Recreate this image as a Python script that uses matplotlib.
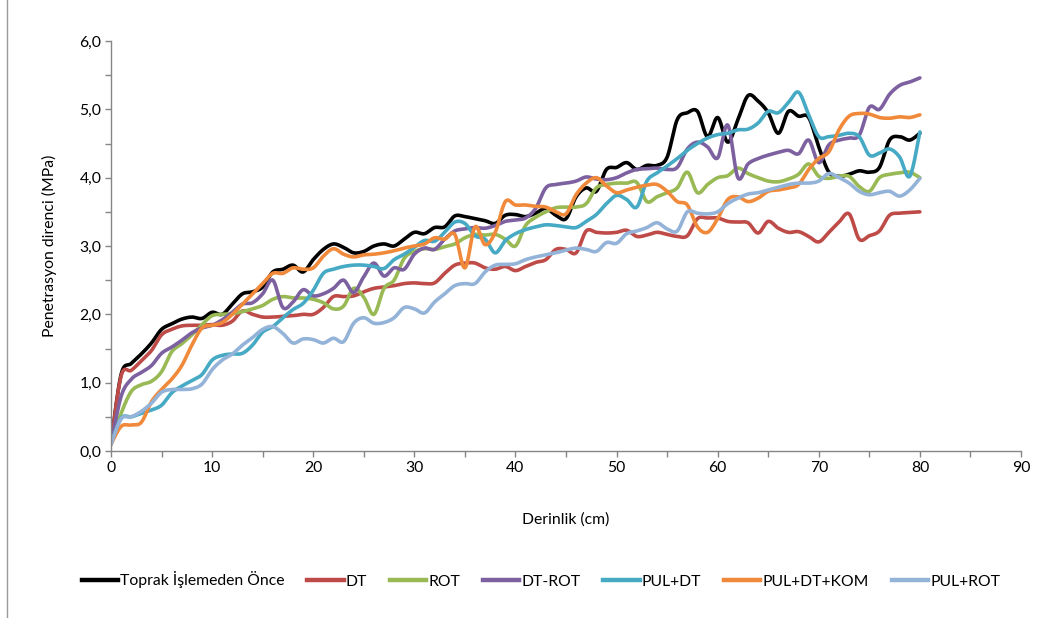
import numpy as np
import matplotlib
matplotlib.use("Agg")
import matplotlib.pyplot as plt
from matplotlib.ticker import MultipleLocator, FuncFormatter
from matplotlib.lines import Line2D

depth = list(range(0, 81))

toprak = [0.10, 1.12, 1.28, 1.42, 1.58, 1.78, 1.86, 1.93, 1.96, 1.94,
          2.03, 2.00, 2.15, 2.30, 2.33, 2.40, 2.62, 2.66, 2.72, 2.62,
          2.80, 2.95, 3.03, 2.98, 2.90, 2.92, 3.00, 3.03, 3.00, 3.10,
          3.20, 3.18, 3.27, 3.28, 3.44, 3.43, 3.40, 3.37, 3.33, 3.45,
          3.46, 3.43, 3.48, 3.55, 3.45, 3.40, 3.72, 3.85, 3.80, 4.12,
          4.15, 4.22, 4.12, 4.18, 4.18, 4.30, 4.85, 4.95, 4.97, 4.60,
          4.88, 4.52, 4.85, 5.20, 5.12, 4.95, 4.65, 4.97, 4.90, 4.88,
          4.45, 4.08, 4.02, 4.05, 4.10, 4.08, 4.15, 4.55, 4.60, 4.55,
          4.65]

dt = [0.10, 1.10, 1.18, 1.32, 1.47, 1.70, 1.78, 1.83, 1.84, 1.84,
      1.85, 1.84, 1.90, 2.05, 2.00, 1.96, 1.96, 1.97, 1.98, 2.00,
      2.00, 2.10, 2.26, 2.26, 2.27, 2.33, 2.38, 2.40, 2.42, 2.45,
      2.46, 2.45, 2.46, 2.60, 2.72, 2.75, 2.75, 2.68, 2.66, 2.70,
      2.64, 2.70, 2.76, 2.80, 2.95, 2.95, 2.90, 3.22, 3.20, 3.19,
      3.20, 3.23, 3.14, 3.16, 3.20, 3.17, 3.14, 3.15, 3.40, 3.41,
      3.41, 3.36, 3.35, 3.34, 3.19, 3.36, 3.26, 3.20, 3.21, 3.14,
      3.06, 3.20, 3.35, 3.47, 3.10, 3.15, 3.22, 3.45, 3.48, 3.49,
      3.50]

rot = [0.10, 0.55, 0.87, 0.97, 1.02, 1.16, 1.45, 1.57, 1.70, 1.85,
       1.98, 2.00, 2.01, 2.04, 2.08, 2.13, 2.22, 2.26, 2.24, 2.24,
       2.22, 2.17, 2.08, 2.12, 2.38, 2.25, 2.00, 2.38, 2.50, 2.82,
       2.92, 2.96, 2.95, 2.99, 3.03, 3.12, 3.17, 3.16, 3.17, 3.10,
       3.00, 3.30, 3.42, 3.50, 3.56, 3.57, 3.57, 3.62, 3.85, 3.90,
       3.92, 3.92, 3.93, 3.65, 3.72, 3.78, 3.85, 4.08, 3.78, 3.90,
       4.00, 4.03, 4.14, 4.06, 4.00, 3.95, 3.94, 3.98, 4.05, 4.20,
       4.02, 3.99, 4.02, 4.02, 3.87, 3.80, 4.00, 4.05, 4.07, 4.08,
       4.00]

dt_rot = [0.10, 0.80, 1.05, 1.15, 1.25, 1.43, 1.52, 1.62, 1.73, 1.80,
          1.84, 1.92, 2.03, 2.15, 2.17, 2.30, 2.50, 2.10, 2.18, 2.36,
          2.27, 2.30, 2.38, 2.50, 2.32, 2.55, 2.75, 2.56, 2.68, 2.66,
          2.88, 2.97, 2.95, 3.10, 3.22, 3.25, 3.27, 3.26, 3.30, 3.36,
          3.38, 3.41, 3.55, 3.85, 3.90, 3.92, 3.95, 4.01, 3.98, 3.97,
          4.00, 4.07, 4.12, 4.13, 4.14, 4.12, 4.15, 4.42, 4.52, 4.45,
          4.29, 4.77, 4.00, 4.20, 4.28, 4.33, 4.37, 4.40, 4.35, 4.55,
          4.22, 4.48, 4.55, 4.58, 4.62, 5.03, 5.00, 5.22, 5.35, 5.40,
          5.46]

pul_dt = [0.10, 0.48, 0.50, 0.55, 0.60, 0.67, 0.85, 0.95, 1.03, 1.12,
          1.33, 1.40, 1.42, 1.43, 1.55, 1.74, 1.82, 1.95, 2.07, 2.16,
          2.35, 2.60, 2.66, 2.70, 2.72, 2.72, 2.70, 2.67, 2.80, 2.88,
          2.98, 3.08, 3.07, 3.20, 3.35, 3.33, 3.15, 3.10, 2.90, 3.08,
          3.18, 3.24, 3.28, 3.31, 3.30, 3.28, 3.27, 3.36, 3.46, 3.62,
          3.74, 3.68, 3.57, 3.95, 4.07, 4.17, 4.28, 4.40, 4.50, 4.58,
          4.63, 4.65, 4.70, 4.71, 4.80, 4.97, 4.95, 5.10, 5.25, 4.92,
          4.60, 4.60, 4.62, 4.65, 4.60, 4.33, 4.36, 4.42, 4.30, 4.02,
          4.67]

pul_dt_kom = [0.10, 0.36, 0.38, 0.42, 0.72, 0.90, 1.05, 1.25, 1.55, 1.80,
              1.84, 1.88, 2.00, 2.15, 2.30, 2.45, 2.60, 2.60, 2.68, 2.66,
              2.68, 2.85, 2.96, 2.88, 2.84, 2.87, 2.88, 2.90, 2.93, 2.97,
              3.00, 3.03, 3.12, 3.10, 3.17, 2.68, 3.28, 3.02, 3.20, 3.65,
              3.60, 3.60, 3.58, 3.57, 3.50, 3.47, 3.75, 3.92, 4.00, 3.88,
              3.78, 3.82, 3.86, 3.89, 3.90, 3.80, 3.65, 3.60, 3.28, 3.20,
              3.40, 3.68, 3.72, 3.65, 3.70, 3.80, 3.82, 3.85, 3.90, 4.12,
              4.28, 4.38, 4.70, 4.90, 4.94, 4.93, 4.88, 4.87, 4.89, 4.88,
              4.92]

pul_rot = [0.10, 0.47, 0.50, 0.58, 0.70, 0.86, 0.90, 0.90, 0.91, 0.98,
           1.19, 1.33, 1.42, 1.55, 1.66, 1.78, 1.82, 1.72, 1.58, 1.64,
           1.63, 1.58, 1.65, 1.60, 1.87, 1.95, 1.87, 1.88, 1.95, 2.10,
           2.08, 2.02, 2.18, 2.30, 2.42, 2.45, 2.45, 2.62, 2.72, 2.73,
           2.74, 2.80, 2.84, 2.87, 2.90, 2.94, 2.97, 2.95, 2.92, 3.05,
           3.04, 3.18, 3.22, 3.27, 3.34, 3.25, 3.22, 3.50, 3.48, 3.47,
           3.50, 3.62, 3.70, 3.76, 3.78, 3.82, 3.86, 3.90, 3.92, 3.92,
           3.95, 4.06, 4.00, 3.92, 3.80, 3.75, 3.78, 3.80, 3.73, 3.82,
           3.99]

series_names = ["Toprak İşlemeden Önce", "DT", "ROT", "DT-ROT",
                "PUL+DT", "PUL+DT+KOM", "PUL+ROT"]
series_values = [toprak, dt, rot, dt_rot, pul_dt, pul_dt_kom, pul_rot]
colors = ["#000000", "#BE4B48", "#98B954", "#7D60A0", "#46AAC5", "#F0893A", "#94B3D8"]

x_ticks = list(range(0, 91, 10))
y_ticks = [0, 1, 2, 3, 4, 5, 6]


def smooth(x, y, n=16):
    """Excel-like smoothed line (Catmull-Rom / Bezier with 1/6 tangents)."""
    x = np.asarray(x, float)
    y = np.asarray(y, float)
    px = np.concatenate([[x[0]], x, [x[-1]]])
    py = np.concatenate([[y[0]], y, [y[-1]]])
    tt = np.linspace(0, 1, n, endpoint=False)
    b0 = (1 - tt) ** 3
    b1 = 3 * (1 - tt) ** 2 * tt
    b2 = 3 * (1 - tt) * tt ** 2
    b3 = tt ** 3
    xs, ys = [], []
    for i in range(1, len(px) - 2):
        p0x, p1x = px[i], px[i + 1]
        p0y, p1y = py[i], py[i + 1]
        c1x = p0x + (px[i + 1] - px[i - 1]) / 6
        c1y = p0y + (py[i + 1] - py[i - 1]) / 6
        c2x = p1x - (px[i + 2] - px[i]) / 6
        c2y = p1y - (py[i + 2] - py[i]) / 6
        xs.append(b0 * p0x + b1 * c1x + b2 * c2x + b3 * p1x)
        ys.append(b0 * p0y + b1 * c1y + b2 * c2y + b3 * p1y)
    xs.append([x[-1]])
    ys.append([y[-1]])
    return np.concatenate(xs), np.concatenate(ys)


plt.rcParams['font.family'] = ['Lato', 'DejaVu Sans']
FS = 11.3

fig = plt.figure(figsize=(10.57, 6.18), dpi=100)
ax = fig.add_axes([111 / 1057, 1 - 451 / 618, (1021 - 111) / 1057, (451 - 41) / 618])

for name, vals, col in zip(series_names, series_values, colors):
    sx, sy = smooth(depth, vals)
    ax.plot(sx, sy, color=col, lw=2.6, label=name, solid_capstyle='round',
            solid_joinstyle='round')

ax.set_xlim(0, 90)
ax.set_ylim(0, 6)
ax.set_xticks(x_ticks)
ax.set_yticks(y_ticks)
ax.xaxis.set_minor_locator(MultipleLocator(5))
ax.yaxis.set_minor_locator(MultipleLocator(0.5))
ax.yaxis.set_major_formatter(FuncFormatter(lambda v, p: f"{v:.1f}".replace('.', ',')))

axis_col = "#868686"
for s in ["top", "right"]:
    ax.spines[s].set_visible(False)
for s in ["left", "bottom"]:
    ax.spines[s].set_color(axis_col)
    ax.spines[s].set_linewidth(1.0)

ax.tick_params(axis='both', which='major', direction='out', length=4, width=1,
               color=axis_col, labelsize=FS, labelcolor='black', pad=3)
ax.tick_params(axis='both', which='minor', direction='out', length=4, width=1,
               color=axis_col)

ax.set_xlabel("Derinlik (cm)", fontsize=FS, labelpad=27)
ax.set_ylabel("Penetrasyon direnci (MPa)", fontsize=FS, labelpad=16)

handles = [Line2D([0], [0], color=c, lw=3.2) for c in colors]
fig.legend(handles, series_names, loc='center', ncol=7,
           bbox_to_anchor=(541 / 1057, 1 - 580 / 618), frameon=False,
           fontsize=FS, handlelength=2.3, handletextpad=0.15, columnspacing=1.45)

fig.add_artist(Line2D([7 / 1057, 7 / 1057], [0, 1], color="#9a9a9a", lw=1.0,
                      transform=fig.transFigure))

fig.savefig("out.png", dpi=100)
